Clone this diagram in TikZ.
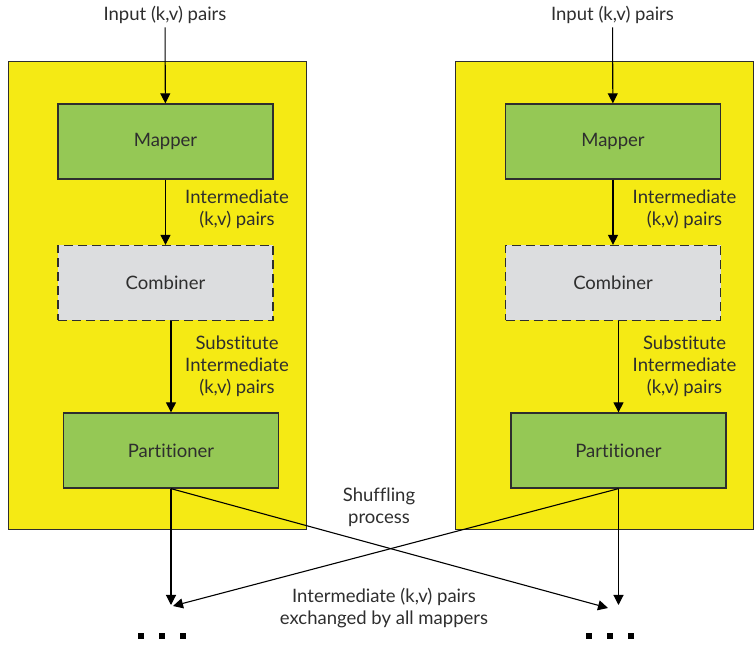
\documentclass[tikz,border=0pt]{standalone}
\usepackage{fontspec}
\setmainfont{Lato}[Ligatures=NoCommon]
\usetikzlibrary{positioning,arrows.meta}
\definecolor{panelyellow}{HTML}{F5EA14}
\definecolor{stagegreen}{HTML}{95C855}
\definecolor{combgray}{HTML}{DCDDDF}
\definecolor{inkgray}{HTML}{2E2E2E}

\begin{document}
\begin{tikzpicture}[x=1pt, y=1pt, >={Triangle[length=10pt,width=10pt]},
  every node/.style = {font=\fontsize{18.5}{21.8}\selectfont,
    text=inkgray, align=center},
  panel/.style = {draw=inkgray, fill=panelyellow, line width=1pt,
    minimum width=298pt, minimum height=468pt, inner sep=0pt},
  stage/.style = {draw=inkgray, fill=stagegreen, line width=1.3pt,
    minimum width=215pt, minimum height=75pt},
  combine/.style = {stage, fill=combgray, dash pattern=on 9pt off 5pt},
  flow/.style = {->, draw=black, line width=1.1pt}]
  \useasboundingbox (0,0) rectangle (755,645);
  % one mapper machine per column
  \foreach \s/\x in {l/0, r/447.5} {
    \node[panel] (panel\s) at (157+\x, 349) {};
    \node (in\s) at (165+\x, 630) {Input (k,v) pairs};
    \node[stage] (map\s) at (165.5+\x, 503.5) {Mapper};
    \node[combine] (comb\s) at (165.5+\x, 362) {Combiner};
    \node[stage] (part\s) at (171+\x, 194.5) {Partitioner};
    \node (mid\s) at (237+\x, 436) {Intermediate\\(k,v) pairs};
    \node (sub\s) at (237+\x, 279) {Substitute\\Intermediate\\(k,v) pairs};
    \node[text=black] (dots\s) at (162+\x, 9)
      {\rule{6pt}{6pt}\hspace{15pt}\rule{6pt}{6pt}\hspace{15pt}\rule{6pt}{6pt}};
    \coordinate (end\s) at (171+\x, 40);
    \draw[flow] (in\s) -- (map\s);
    \draw[flow] (map\s) -- (comb\s);
    \draw[flow] (comb\s.south -| part\s.north) -- (part\s);
    \draw[flow] (part\s) -- (end\s);
  }
  % shuffle between the two machines
  \coordinate (xl) at (173, 39);
  \coordinate (xr) at (608, 37);
  \draw[flow] (partl.south) -- (xr);
  \draw[flow] (partr.south) -- (xl);
  \node (shuffle) at (379, 138) {Shuffling\\process};
  \node (exch) at (384, 37) {Intermediate (k,v) pairs\\exchanged by all mappers};
\end{tikzpicture}
\end{document}
